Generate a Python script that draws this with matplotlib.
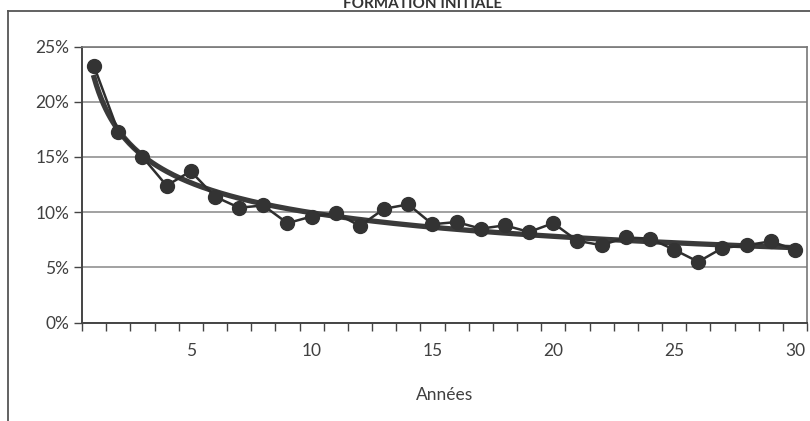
import numpy as np
import matplotlib.pyplot as plt
from matplotlib.lines import Line2D
from matplotlib.ticker import FuncFormatter

# taux par année depuis la formation initiale
annees = list(range(1, 31))
taux = [23.2, 17.3, 15.0, 12.4, 13.7, 11.4, 10.4, 10.6, 9.0, 9.6,
        9.9, 8.75, 10.3, 10.7, 8.9, 9.1, 8.5, 8.8, 8.2, 9.0,
        7.4, 7.0, 7.7, 7.6, 6.6, 5.5, 6.75, 7.0, 7.35, 6.6]
titre = "FORMATION INITIALE"
x_label = "Années"

plt.rcParams['font.family'] = ['Lato', 'DejaVu Sans']

fig = plt.figure(figsize=(8.1, 4.21), dpi=100)
ax = fig.add_axes([82 / 810, 1 - 322.5 / 421, 725 / 810, 276 / 421])

# cadre extérieur (haut + gauche)
fy = 1 - 10.7 / 421
fx = 8 / 810
fig.add_artist(Line2D([fx, 1], [fy, fy], transform=fig.transFigure, color='#555555', lw=1.3))
fig.add_artist(Line2D([fx, fx], [0, fy], transform=fig.transFigure, color='#555555', lw=1.3))

# titre (coupé en haut comme dans l'original)
fig.text(422.5 / 810, 1 - 7.5 / 421, titre, ha='center', va='baseline', fontsize=11,
         fontweight='bold', color='#333333')

x = np.array(annees, dtype=float)
y = np.array(taux)

# courbe de tendance puissance (moindres carrés log-log)
b, loga = np.polyfit(np.log(x), np.log(y), 1)
xt = np.linspace(1, 30, 300)
ax.plot(xt, np.exp(loga) * xt ** b, color='#3a3a3a', lw=3.8, zorder=3)

ax.plot(x, y, color='#2e2e2e', lw=1.8, marker='o', markersize=10,
        markerfacecolor='#333333', markeredgecolor='#333333', zorder=4)

ax.set_xlim(0.5, 30.5)
ax.set_ylim(0, 25)
ax.set_yticks([0, 5, 10, 15, 20, 25])
ax.yaxis.set_major_formatter(FuncFormatter(lambda v, p: f"{v:.0f}%"))
ax.grid(axis='y', color='#888888', lw=1.1)
ax.set_axisbelow(True)

# graduations entre catégories, étiquettes tous les 5 ans
ax.set_xticks(np.arange(0.5, 31, 1), minor=True)
ax.set_xticks([5, 10, 15, 20, 25, 30])
ax.set_xticklabels(['5', '10', '15', '20', '25', '30'])
ax.tick_params(axis='x', which='major', length=0, pad=15)
ax.tick_params(axis='x', which='minor', length=6, width=1, color='#444444', direction='out')
ax.tick_params(axis='y', length=6, width=1, color='#444444', direction='out', pad=3)
ax.tick_params(labelsize=12.5, labelcolor='#404040')

for s in ['top', 'right']:
    ax.spines[s].set_color('#777777')
    ax.spines[s].set_linewidth(1.2)
for s in ['left', 'bottom']:
    ax.spines[s].set_color('#444444')
    ax.spines[s].set_linewidth(1.4)

ax.set_xlabel(x_label, fontsize=12.5, color='#404040', labelpad=20)

fig.savefig('out.png', dpi=100)
